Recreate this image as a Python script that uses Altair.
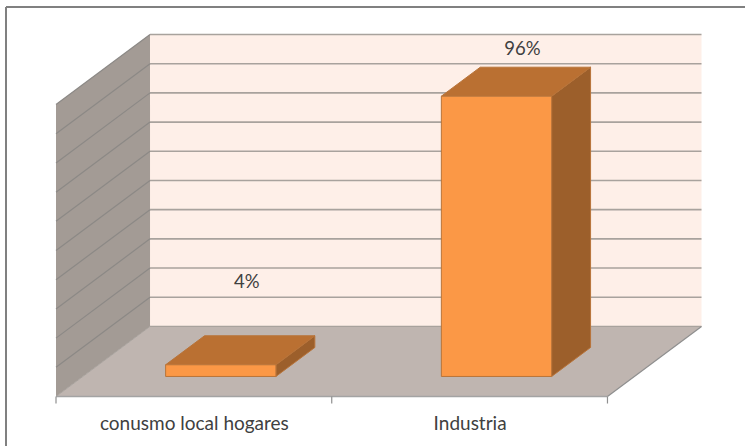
import altair as alt
import pandas as pd

# Chart values
categories = ["conusmo local hogares", "Industria"]
shares = [4, 96]
share_labels = ["4%", "96%"]
gridline_values = [0, 10, 20, 30, 40, 50, 60, 70, 80, 90, 100]

# Oblique projection: one category is one x unit, the box is 0.341 x units
# and 24 value units deep.
DEPTH_X = 0.341
DEPTH_Y = 24.0
BAR_WIDTH = 0.4
BAR_FRONT = 0.286
BAR_BACK = 0.70


def project(cat, depth, value):
    return {"x": cat + depth * DEPTH_X, "y": value + depth * DEPTH_Y}


label_expr = f"datum.value < 1 ? '{categories[0]}' : '{categories[1]}'"
x_axis = alt.Axis(
    values=[0.5, 1.5],
    labelExpr=label_expr,
    domain=False,
    ticks=False,
    grid=False,
    title=None,
    labelFont="Lato",
    labelFontSize=19,
    labelColor="#404040",
    labelPadding=17.5,
    labelLimit=300,
    labelFlush=False,
    labelOverlap=False,
)
x_scale = alt.Scale(domain=[0, 2 + DEPTH_X], range=[0, 645.5], nice=False, zero=False)
y_scale = alt.Scale(domain=[0, 100 + DEPTH_Y], range=[362, 0], nice=False, zero=False)
X = alt.X("x:Q", scale=x_scale, axis=x_axis)
Y = alt.Y("y:Q", scale=y_scale, axis=None)
X2 = alt.X2("x2:Q")
Y2 = alt.Y2("y2:Q")


def slanted(cat, v_low, v_high, d_a, d_b, fill, **mark):
    """Upright face running front to back at one category position."""
    rows = []
    for d in (d_a, d_b):
        p = project(cat, d, v_low)
        rows.append({"x": p["x"], "y": p["y"], "y2": v_high + d * DEPTH_Y})
    return alt.Chart(pd.DataFrame(rows)).mark_area(
        orient="vertical", fill=fill, **mark
    ).encode(x=X, y=Y, y2=Y2)


def flat(cat_left, cat_right, value, d_a, d_b, fill, **mark):
    """Level face at a given value: spans two category positions, runs front to back."""
    rows = []
    for d in (d_a, d_b):
        rows.append({
            "x": cat_left + d * DEPTH_X,
            "x2": cat_right + d * DEPTH_X,
            "y": value + d * DEPTH_Y,
        })
    return alt.Chart(pd.DataFrame(rows)).mark_area(
        orient="horizontal", fill=fill, **mark
    ).encode(x=X, x2=X2, y=Y)


def front(cat_left, cat_right, v_low, v_high, depth, fill, **mark):
    """Upright face parallel to the back wall."""
    row = {
        "x": cat_left + depth * DEPTH_X,
        "x2": cat_right + depth * DEPTH_X,
        "y": v_low + depth * DEPTH_Y,
        "y2": v_high + depth * DEPTH_Y,
    }
    return alt.Chart(pd.DataFrame([row])).mark_rect(fill=fill, **mark).encode(
        x=X, x2=X2, y=Y, y2=Y2
    )


# Walls and floor
left_wall = slanted(0, 0, 100, 0, 1, "#A39B95")
back_wall = front(0, 2, 0, 100, 1, "#FEEFE8")
floor = flat(0, 2, 0, 0, 1, "#BFB5B0")

# Gridlines wrap from the left wall onto the back wall
side_rows, back_rows = [], []
for v in gridline_values[1:]:
    for d in (0, 1):
        side_rows.append({**project(0, d, v), "v": v})
    for c in (0, 2):
        back_rows.append({**project(c, 1, v), "v": v})
side_grid = alt.Chart(pd.DataFrame(side_rows)).mark_line(
    color="#8C8986", strokeWidth=1.2
).encode(x=X, y=Y, detail="v:N")
back_grid = alt.Chart(pd.DataFrame(back_rows)).mark_line(
    color="#A8A29D", strokeWidth=1.6
).encode(x=X, y=Y, detail="v:N")

# Floor edges
front_edge = alt.Chart(pd.DataFrame([project(0, 0, 0), project(2, 0, 0)])).mark_line(
    color="#A3A3A3", strokeWidth=1.6
).encode(x=X, y=Y)
right_edge = alt.Chart(pd.DataFrame([project(2, 0, 0), project(2, 1, 0)])).mark_line(
    color="#8F8F8F", strokeWidth=1.2
).encode(x=X, y=Y)
back_edge = alt.Chart(pd.DataFrame([project(0, 1, 0), project(2, 1, 0)])).mark_line(
    color="#A8A29D", strokeWidth=1.2
).encode(x=X, y=Y)
left_edge = alt.Chart(pd.DataFrame([project(0, 0, 0), project(0, 1, 0)])).mark_line(
    color="#A8A29D", strokeWidth=1
).encode(x=X, y=Y)

# Category boundary ticks under the floor
ticks = alt.Chart(pd.DataFrame({"x": [0, 1, 2], "y": [0, 0, 0], "y2": [-2.4, -2.4, -2.4]})).mark_rule(
    color="#8F8F8F", strokeWidth=1.2
).encode(x=X, y=Y, y2=Y2)

# Bars: side, top, front, with the value label above each
bar_stroke = dict(stroke="#B8743A", strokeWidth=1)
bar_layers = []
label_dx = [26, 26]
label_dy = [-53.5, -18.5]
for i, share in enumerate(shares):
    left = i + 0.5 - BAR_WIDTH / 2
    right = i + 0.5 + BAR_WIDTH / 2
    bar_layers.append(slanted(right, 0, share, BAR_FRONT, BAR_BACK, "#9C5F2B", **bar_stroke))
    bar_layers.append(flat(left, right, share, BAR_FRONT, BAR_BACK, "#BA7032", **bar_stroke))
    bar_layers.append(front(left, right, 0, share, BAR_FRONT, "#FB9846", **bar_stroke))
    anchor = project(i + 0.5, BAR_FRONT, share)
    anchor["y"] = share + BAR_BACK * DEPTH_Y
    anchor["label"] = share_labels[i]
    bar_layers.append(
        alt.Chart(pd.DataFrame([anchor])).mark_text(
            font="Lato", fontSize=18.5, color="#404040", dx=label_dx[i], dy=label_dy[i]
        ).encode(x=X, y=Y, text="label:N")
    )

# Outer chart frame: top and left edges only
frame_top = alt.Chart(pd.DataFrame({"k": [0]})).mark_rule(color="#808080", strokeWidth=2).encode(
    x=alt.value(-50), x2=alt.value(690), y=alt.value(-27.5)
)
frame_left = alt.Chart(pd.DataFrame({"k": [0]})).mark_rule(color="#808080", strokeWidth=2).encode(
    x=alt.value(-50), y=alt.value(-27.5), y2=alt.value(412)
)

chart = alt.layer(
    frame_top,
    frame_left,
    back_wall,
    left_wall,
    floor,
    back_grid,
    side_grid,
    back_edge,
    left_edge,
    right_edge,
    front_edge,
    ticks,
    *bar_layers,
).properties(
    width=645.5,
    height=362,
    padding={"left": 56, "top": 34.5, "right": 43, "bottom": 49.5},
    autosize=alt.AutoSizeParams(type="none"),
    background="white",
).configure_view(stroke=None)

chart.save("out.html", embed_options={"renderer": "svg", "actions": False})
